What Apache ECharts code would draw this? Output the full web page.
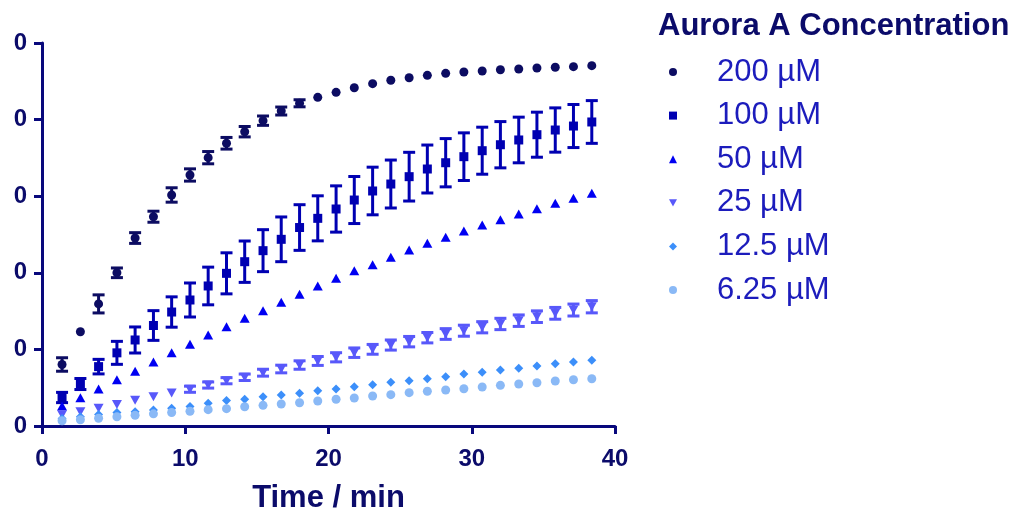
<!DOCTYPE html>
<html>
<head>
<meta charset="utf-8">
<script src="https://cdn.jsdelivr.net/npm/echarts@6/dist/echarts.min.js"></script>
<style>
  html, body { margin: 0; padding: 0; background: #ffffff; }
  #chart { width: 1017px; height: 512px; }
</style>
</head>
<body>
<div id="chart"></div>
<script>
// Sampling times (min)
const times = [1.40, 2.68, 3.95, 5.23, 6.50, 7.78, 9.05, 10.33, 11.60, 12.88,
               14.15, 15.43, 16.70, 17.98, 19.25, 20.53, 21.80, 23.08, 24.35, 25.63,
               26.90, 28.18, 29.45, 30.73, 32.00, 33.28, 34.55, 35.83, 37.10, 38.38];

// Mean signal per Aurora A concentration
const conc200 = [0.803, 1.231, 1.594, 2.000, 2.454, 2.732, 3.016, 3.277, 3.503, 3.691,
                 3.842, 3.986, 4.112, 4.213, 4.291, 4.356, 4.416, 4.469, 4.513, 4.547,
                 4.578, 4.604, 4.621, 4.634, 4.651, 4.661, 4.674, 4.683, 4.691, 4.704];
const conc100 = [0.372, 0.548, 0.775, 0.955, 1.123, 1.312, 1.488, 1.645, 1.828, 1.993,
                 2.145, 2.289, 2.437, 2.591, 2.711, 2.833, 2.950, 3.068, 3.159, 3.255,
                 3.355, 3.437, 3.516, 3.594, 3.672, 3.734, 3.803, 3.864, 3.916, 3.969];
const conc50 = [0.261, 0.368, 0.483, 0.604, 0.715, 0.836, 0.957, 1.067, 1.188, 1.296,
                1.406, 1.505, 1.615, 1.719, 1.828, 1.928, 2.027, 2.106, 2.202, 2.298,
                2.385, 2.463, 2.546, 2.624, 2.693, 2.768, 2.837, 2.907, 2.973, 3.038];
const conc25 = [0.148, 0.187, 0.231, 0.281, 0.336, 0.383, 0.431, 0.480, 0.535, 0.591,
                0.636, 0.696, 0.744, 0.796, 0.849, 0.897, 0.957, 1.001, 1.057, 1.101,
                1.153, 1.201, 1.244, 1.289, 1.332, 1.375, 1.427, 1.471, 1.514, 1.557];
const conc12 = [0.098, 0.121, 0.150, 0.176, 0.187, 0.209, 0.231, 0.255, 0.296, 0.333,
                0.349, 0.383, 0.405, 0.427, 0.461, 0.483, 0.513, 0.539, 0.570, 0.591,
                0.617, 0.644, 0.679, 0.701, 0.731, 0.753, 0.783, 0.813, 0.836, 0.858];
const conc6 = [0.069, 0.082, 0.101, 0.121, 0.140, 0.159, 0.176, 0.193, 0.213, 0.226,
               0.252, 0.270, 0.287, 0.304, 0.326, 0.349, 0.366, 0.392, 0.409, 0.435,
               0.453, 0.470, 0.487, 0.509, 0.531, 0.548, 0.565, 0.587, 0.604, 0.617];

// Standard deviations (where measured)
const err200 = [0.088, 0.020, 0.118, 0.063, 0.070, 0.072, 0.094, 0.080, 0.080, 0.076,
                0.068, 0.061, 0.052, 0.046, 0.020, 0.020, 0.020, 0.020, 0.020, 0.020,
                0.020, 0.020, 0.020, 0.020, 0.020, 0.020, 0.020, 0.020, 0.020, 0.020];
const err100 = [0.067, 0.072, 0.095, 0.150, 0.170, 0.194, 0.198, 0.222, 0.246, 0.268,
                0.270, 0.274, 0.292, 0.298, 0.294, 0.302, 0.307, 0.311, 0.313, 0.318,
                0.313, 0.315, 0.311, 0.307, 0.302, 0.298, 0.294, 0.289, 0.281, 0.279];
const err25 = [0.030, 0.030, 0.030, 0.035, 0.035, 0.035, 0.035, 0.040, 0.040, 0.040,
               0.042, 0.045, 0.050, 0.055, 0.058, 0.060, 0.062, 0.064, 0.066, 0.068,
               0.068, 0.070, 0.072, 0.073, 0.074, 0.075, 0.076, 0.077, 0.078, 0.080];

const seriesNames = ['200 \u00B5M', '100 \u00B5M', '50 \u00B5M', '25 \u00B5M', '12.5 \u00B5M', '6.25 \u00B5M'];
const xTickLabels = ['0', '10', '20', '30', '40'];
const yTickLabels = ['0', '0', '0', '0', '0', '0'];
const legendTitle = 'Aurora A Concentration';
const xAxisTitle = 'Time / min';

const FONT = '"Liberation Sans", Arial, Helvetica, sans-serif';
const AXIS_COLOR = '#08087c';
const LABEL_COLOR = '#0b0b6a';
const DOWN_TRIANGLE = 'path://M0,0 L10,0 L5,9 Z';

const datasets = [
  { values: conc200, errors: err200, symbol: 'circle',      size: 9,       color: '#0c0c62' },
  { values: conc100, errors: err100, symbol: 'rect',        size: 9,       color: '#0000b2' },
  { values: conc50,  errors: null,   symbol: 'triangle',    size: [10, 9], color: '#0000f2' },
  { values: conc25,  errors: err25,  symbol: DOWN_TRIANGLE, size: [10, 9], color: '#5858fa' },
  { values: conc12,  errors: null,   symbol: 'diamond',     size: 9,       color: '#3c8ffa' },
  { values: conc6,   errors: null,   symbol: 'circle',      size: 9,       color: '#8ab9f6' }
];

function errorBarRenderer(color) {
  return function (params, api) {
    const x = api.value(0), y = api.value(1), e = api.value(2);
    const c = api.coord([x, y]);
    const hi = api.coord([x, y + e]);
    const lo = api.coord([x, y - e]);
    if (c[1] - hi[1] < 3) return null;
    const cap = 6;
    const style = { stroke: color, lineWidth: 3, fill: null };
    return {
      type: 'group',
      children: [
        { type: 'line', shape: { x1: c[0], y1: hi[1], x2: c[0], y2: lo[1] }, style: style },
        { type: 'line', shape: { x1: c[0] - cap, y1: hi[1], x2: c[0] + cap, y2: hi[1] }, style: style },
        { type: 'line', shape: { x1: c[0] - cap, y1: lo[1], x2: c[0] + cap, y2: lo[1] }, style: style }
      ]
    };
  };
}

const series = [];
datasets.forEach(function (d, k) {
  if (d.errors) {
    series.push({
      name: seriesNames[k] + ' SD',
      type: 'custom',
      renderItem: errorBarRenderer(d.color),
      data: times.map(function (t, i) { return [t, d.values[i], d.errors[i]]; }),
      z: 2,
      silent: true,
      animation: false
    });
  }
  series.push({
    name: seriesNames[k],
    type: 'scatter',
    symbol: d.symbol,
    symbolSize: d.size,
    itemStyle: { color: d.color, opacity: 1 },
    data: times.map(function (t, i) { return [t, d.values[i]]; }),
    z: 3,
    silent: true,
    animation: false
  });
});

const chart = echarts.init(document.getElementById('chart'), null, { renderer: 'canvas' });
chart.setOption({
  backgroundColor: '#ffffff',
  animation: false,
  title: {
    text: legendTitle,
    left: 658,
    top: 11,
    padding: 0,
    textStyle: { fontFamily: FONT, fontSize: 31, fontWeight: 'bold', color: LABEL_COLOR }
  },
  legend: {
    data: seriesNames.map(function (n, k) { return { name: n, icon: datasets[k].symbol }; }),
    orient: 'vertical',
    left: 669,
    top: 56,
    padding: 0,
    itemWidth: 8,
    itemHeight: 8,
    itemGap: 11.6,
    selectedMode: false,
    textStyle: { fontFamily: FONT, fontSize: 31, color: '#1c1cbc', lineHeight: 32, padding: [0, 0, 0, 35] }
  },
  grid: { left: 42, right: 402, top: 43, bottom: 86, containLabel: false, outerBoundsMode: 'none' },
  xAxis: {
    type: 'value',
    min: 0, max: 40, interval: 10,
    name: xAxisTitle,
    nameLocation: 'middle',
    nameGap: 57,
    nameTextStyle: { fontFamily: FONT, fontSize: 31, fontWeight: 'bold', color: LABEL_COLOR },
    axisLine: { lineStyle: { color: AXIS_COLOR, width: 3 } },
    axisTick: { show: true, inside: false, length: 8, lineStyle: { color: AXIS_COLOR, width: 3 } },
    axisLabel: {
      fontFamily: FONT, fontSize: 24, fontWeight: 'bold', color: LABEL_COLOR, margin: 21,
      formatter: function (v, i) { return xTickLabels[i]; }
    },
    splitLine: { show: false }
  },
  yAxis: {
    type: 'value',
    min: 0, max: 5, interval: 1,
    axisLine: { show: true, lineStyle: { color: AXIS_COLOR, width: 3 } },
    axisTick: { show: true, inside: false, length: 8, lineStyle: { color: AXIS_COLOR, width: 3 } },
    axisLabel: {
      fontFamily: FONT, fontSize: 24, fontWeight: 'bold', color: LABEL_COLOR, margin: 15,
      formatter: function (v, i) { return yTickLabels[i]; }
    },
    splitLine: { show: false }
  },
  series: series
});
</script>
</body>
</html>
